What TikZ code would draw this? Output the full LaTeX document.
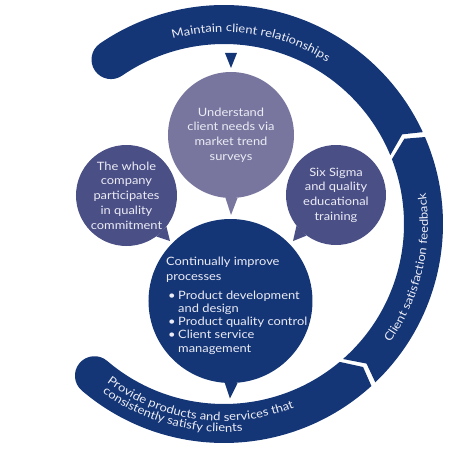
\documentclass[tikz,border=0pt]{standalone}
\usepackage{fontspec}
\setmainfont{Lato}[FakeStretch=1.12]
\usetikzlibrary{decorations.text}

\definecolor{navy}{RGB}{20,54,118}
\definecolor{lavender}{RGB}{120,118,158}
\definecolor{slate}{RGB}{74,79,134}
\definecolor{paletext}{RGB}{236,236,246}

\newcommand{\ringfont}{\fontsize{11.6}{13}\selectfont\color{paletext}}

\tikzset{
  bubble/.style={circle, inner sep=0pt, align=center, text=paletext,
    font=\fontsize{11.5}{14.7}\selectfont},
  ringlabel/.style={decorate, decoration={text along path, text align=left,
    text={|\ringfont|#1}}}
}

\begin{document}
\begin{tikzpicture}[x=1pt, y=1pt, line join=round]
  \useasboundingbox (-224,-229) rectangle (229,224);

  % Top arc: notched start, round end
  \fill[navy] (22.5:180pt) -- (26.7:199.5pt) -- (24.8:219pt)
    arc[start angle=24.8, end angle=124.5, radius=219pt]
    arc[start angle=124.5, end angle=304.5, radius=19.5pt]
    arc[start angle=124.5, end angle=22.5, radius=180pt] -- cycle;

  % Right arc: notched start, pointed end
  \fill[navy] (-48.6:180pt) -- (-44.4:199.5pt) -- (-46.3:219pt)
    arc[start angle=-46.3, end angle=23.4, radius=219pt]
    -- (25.3:199.5pt) -- (21.1:180pt)
    arc[start angle=21.1, end angle=-48.6, radius=180pt] -- cycle;

  % Bottom arc: round start, pointed end
  \fill[navy] (-130.5:219pt)
    arc[start angle=-130.5, end angle=-47.7, radius=219pt]
    -- (-45.8:199.5pt) -- (-50:180pt)
    arc[start angle=-50, end angle=-130.5, radius=180pt]
    arc[start angle=49.5, end angle=229.5, radius=19.5pt] -- cycle;

  % Pointer under the top arc
  \coordinate (pointl) at (1,171);
  \coordinate (pointr) at (13,171);
  \coordinate (pointtip) at (7,156);
  \fill[navy] (pointl) -- (pointr) -- (pointtip) -- cycle;

  % Labels along the ring
  \path[ringlabel=Maintain client relationships]
    (105.5:192pt) arc[start angle=105.5, end angle=20, radius=192pt];
  \path[ringlabel=Client satisfaction feedback]
    (-35.5:204pt) arc[start angle=-35.5, end angle=40, radius=204pt];
  \path[ringlabel=Provide products and services that]
    (-126.5:197pt) arc[start angle=-126.5, end angle=-40, radius=197pt];
  \path[ringlabel=consistently satisfy clients]
    (-125.8:208pt) arc[start angle=-125.8, end angle=-60, radius=208pt];

  % Bubbles
  \node[bubble, fill=lavender, minimum size=126pt] (survey) at (7,89)
    {Understand\\client needs via\\market trend\\surveys};
  \node[bubble, fill=slate, minimum size=101pt] (whole) at (-97.5,28.5)
    {The whole\\company\\participates\\in quality\\commitment};
  \node[bubble, fill=slate, minimum size=100pt] (sigma) at (112,29)
    {Six Sigma\\and quality\\educational\\training};
  \node[circle, fill=navy, minimum size=164pt] (improve) at (6.5,-77) {};

  % Tails
  \coordinate (surveytip) at (7,9);
  \coordinate (wholetip) at (-54,-17);
  \coordinate (sigmatip) at (69,-17);
  \coordinate (improvetip) at (6,-174.5);
  \fill[lavender] (survey.-84.5) -- (surveytip) -- (survey.-95.5) -- cycle;
  \fill[slate] (whole.-38) -- (wholetip) -- (whole.-54) -- cycle;
  \fill[slate] (sigma.-126) -- (sigmatip) -- (sigma.-142) -- cycle;
  \fill[navy] (improve.-85.8) -- (improvetip) -- (improve.-94.2) -- cycle;

  % Process list
  \node[anchor=north west, align=left, inner sep=0pt, text=paletext,
    font=\fontsize{11.5}{13.3}\selectfont] (steps) at (-58,-32.4)
    {Continually improve\\[2.4pt]
     processes\\[5pt]
     \hspace*{2pt}\makebox[10pt][l]{\textbullet}Product development\\
     \hspace*{12pt}and design\\
     \hspace*{2pt}\makebox[10pt][l]{\textbullet}Product quality control\\
     \hspace*{2pt}\makebox[10pt][l]{\textbullet}Client service\\
     \hspace*{12pt}management};
\end{tikzpicture}
\end{document}
